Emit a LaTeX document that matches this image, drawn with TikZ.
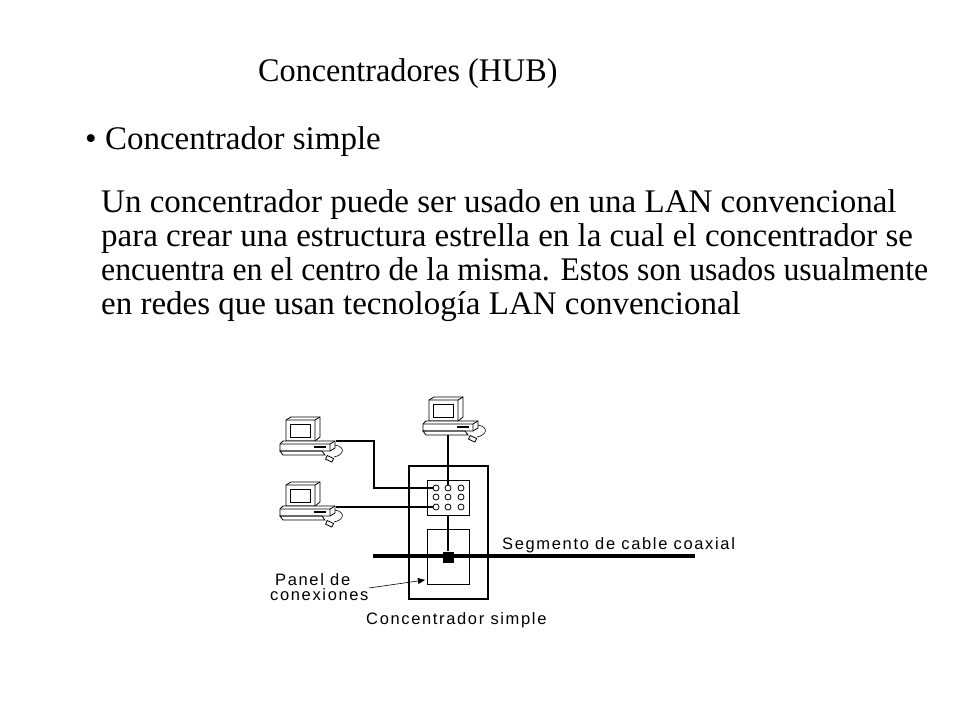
\documentclass[tikz,border=0pt]{standalone}
\usepackage{fontspec}
\setmainfont{Liberation Serif}
\newfontfamily\lblfont[LetterSpace=10]{Liberation Sans}
\usetikzlibrary{arrows,positioning}

\tikzset{
  txt/.style={anchor=base west, inner sep=0, font=\fontsize{33}{38}\selectfont},
  lbl/.style={anchor=base west, inner sep=0, font=\fontsize{16.5}{20}\lblfont},
  cable/.style={line width=2pt},
  port/.style={circle, draw, inner sep=0, minimum size=6pt, line width=0.8pt},
  pc/.pic={
    \draw[line width=0.8pt, fill=white] (6,3) -- (11,0) -- (40,0) -- (40,20) -- (35,24) -- (6,24) -- cycle;
    \draw[line width=0.8pt] (6,3) -- (35,3) -- (35,24) (35,3) -- (40,0);
    \draw[line width=0.8pt] (10,7) rectangle (30,20);
    \draw[line width=0.8pt, fill=white] (0,27) -- (3,24) -- (55,24) -- (55,31) -- (50,34) -- (0,34) -- cycle;
    \draw[line width=0.8pt] (0,27) -- (50,27) -- (50,34) (50,27) -- (55,24);
    \draw[line width=1.5pt] (34,30) -- (46,30);
    \draw[line width=0.8pt] (0,34) -- (42,34) -- (45,38) -- (3,38) -- cycle;
    \draw[line width=0.6pt] (55,28) .. controls (66,30) and (64,38) .. (54,40);
    \draw[line width=0.8pt, rotate around={-25:(50,42)}] (46,40) rectangle (53,44);
    \coordinate (-side) at (56,24);
    \coordinate (-bot) at (25,38);
  }
}

\begin{document}
\begin{tikzpicture}[x=1pt,y=-1pt]
  \useasboundingbox (0,0) rectangle (960,720);
  % text
  \node[txt] (title) at (258,81) {\scalebox{0.975}[1]{Concentradores (HUB)}};
  \node[txt] (bullet) at (85,149) {\textbullet\ Concentrador simple};
  \node[txt] (line1) at (101,212) {Un concentrador puede ser usado en una LAN convencional};
  \node[txt] (line2) at (101,246) {para crear una estructura estrella en la cual el concentrador se};
  \node[txt] (line3) at (101,280) {\scalebox{0.962}[1]{encuentra en el centro de la misma. Estos son usados usualmente}};
  \node[txt] (line4) at (101,314) {en redes que usan tecnología LAN convencional};
  % hub
  \draw[line width=2pt] (409,466) rectangle (488,599);
  \node[draw, line width=0.8pt, minimum width=42pt, minimum height=35pt, inner sep=0] (ports) at (448,497.5) {};
  \node[draw, line width=0.8pt, minimum width=42pt, minimum height=55pt, inner sep=0] (panel) at (448,556.5) {};
  \foreach \c/\x in {1/436,2/448,3/461}
    \foreach \r/\y in {1/488,2/497,3/507}
      \node[port] (p\c\r) at (\x,\y) {};
  % coax
  \coordinate (coaxL) at (373,556);
  \coordinate (coaxR) at (695,556);
  \draw[line width=4.5pt] (coaxL) -- (coaxR);
  \node[fill=black, minimum size=11pt, inner sep=0] (tap) at (448,557) {};
  \draw[cable] (ports.south) -- (tap);
  % computers
  \pic (pcTop) at (423,397) {pc};
  \pic (pcA) at (280,417) {pc};
  \pic (pcB) at (280,482) {pc};
  \draw[cable] (pcTop-bot) -- (p21);
  \draw[cable] (pcA-side) -| (374,488) -- (p11);
  \draw[cable] (pcB-side |- p13) -- (p13);
  % labels
  \node[lbl] (coaxlbl) at (502,549) {Segmento de cable coaxial};
  \node[lbl] (panlbl1) at (275,585) {Panel de};
  \node[lbl] (panlbl2) at (270,600) {conexiones};
  \node[lbl] (hublbl) at (366,624) {Concentrador simple};
  \coordinate (arrS) at (369,588);
  \draw[-triangle 45, line width=0.6pt] (arrS) -- (425,580);
\end{tikzpicture}
\end{document}
